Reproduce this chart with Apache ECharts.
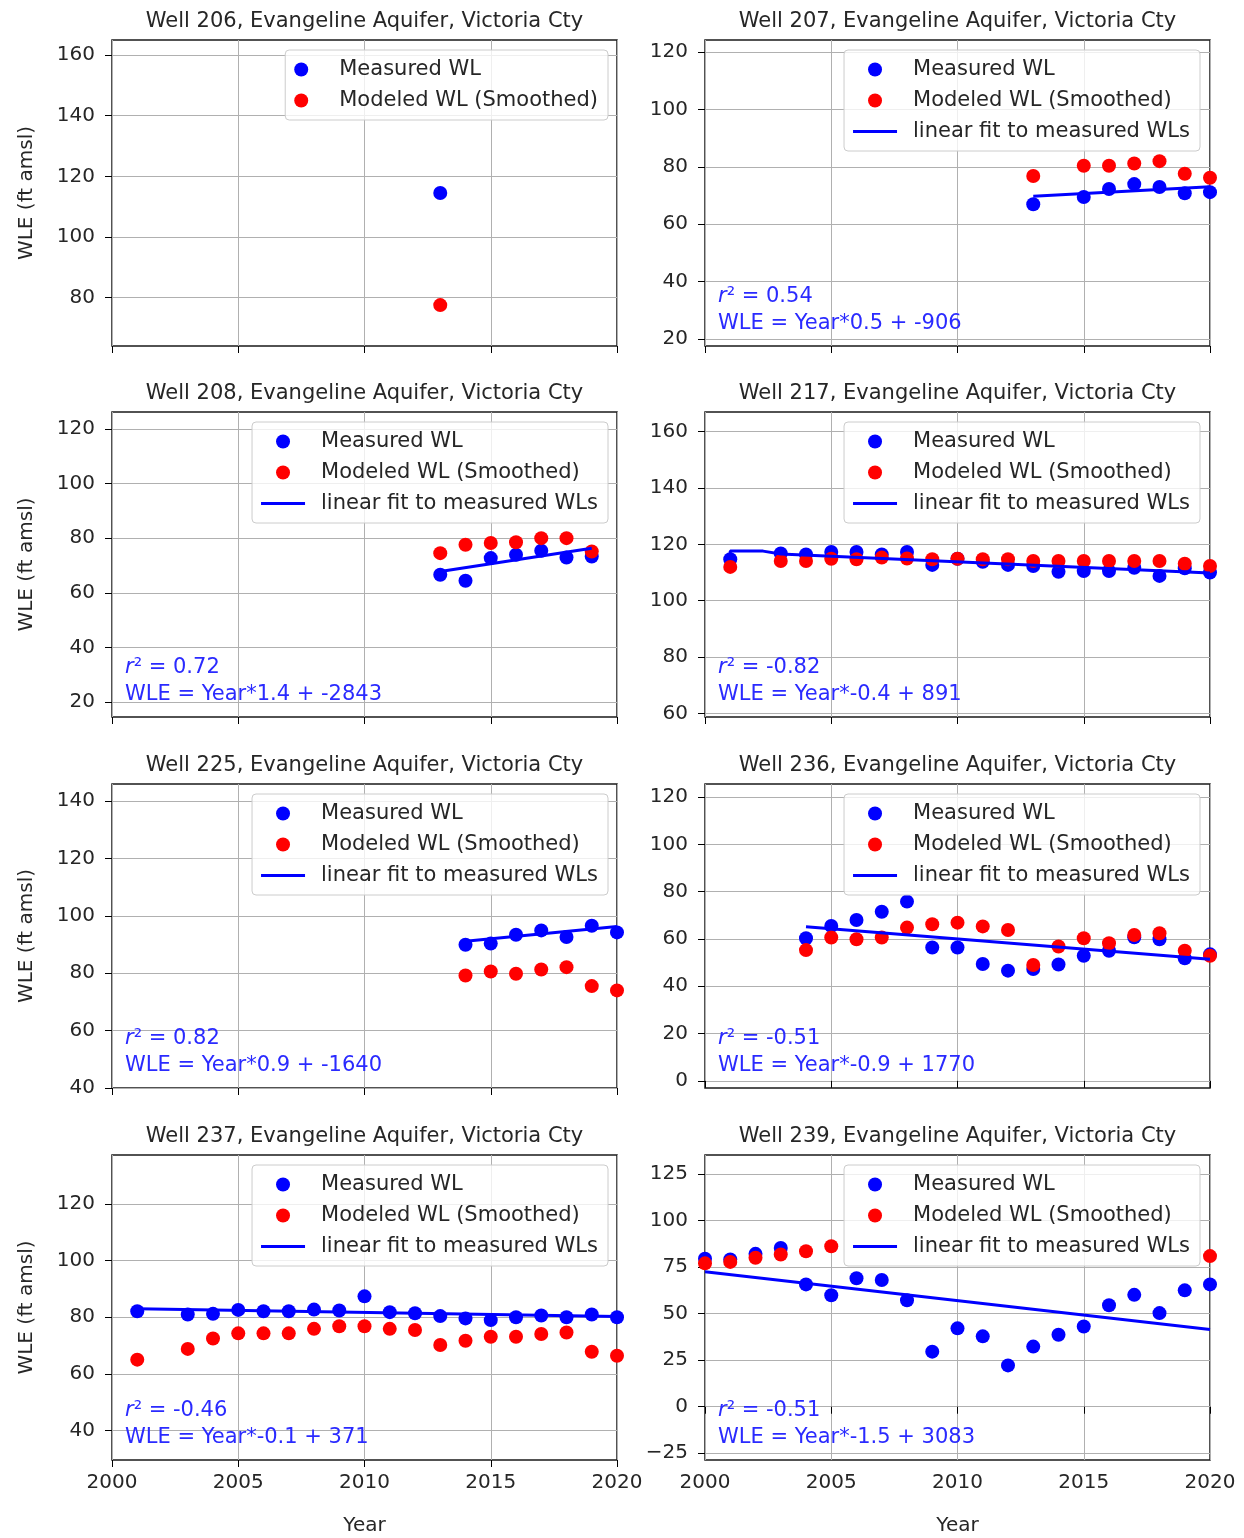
<!DOCTYPE html>
<html><head><meta charset="utf-8">
<script src="https://cdn.jsdelivr.net/npm/echarts@6/dist/echarts.min.js"></script>
<style>html,body{margin:0;padding:0;background:#fff}#c{width:1244px;height:1538px}</style>
</head><body><div id="c"></div><script>
// ---------- data ----------
const titles = [
  'Well 206, Evangeline Aquifer, Victoria Cty',
  'Well 207, Evangeline Aquifer, Victoria Cty',
  'Well 208, Evangeline Aquifer, Victoria Cty',
  'Well 217, Evangeline Aquifer, Victoria Cty',
  'Well 225, Evangeline Aquifer, Victoria Cty',
  'Well 236, Evangeline Aquifer, Victoria Cty',
  'Well 237, Evangeline Aquifer, Victoria Cty',
  'Well 239, Evangeline Aquifer, Victoria Cty'
];
const xTicks = [2000, 2005, 2010, 2015, 2020];

const w206Years = [2013];
const w206Measured = [114.5];
const w206Modeled = [77.5];
const w206Ticks = [80, 100, 120, 140, 160];

const w207Years = [2013, 2015, 2016, 2017, 2018, 2019, 2020];
const w207Measured = [67.0, 69.5, 72.3, 74.0, 73.0, 70.8, 71.2];
const w207Modeled = [76.8, 80.4, 80.4, 81.2, 82.0, 77.6, 76.2];
const w207FitYears = [2013, 2020];
const w207Fit = [69.8, 73.1];
const w207Ticks = [20, 40, 60, 80, 100, 120];

const w208Years = [2013, 2014, 2015, 2016, 2017, 2018, 2019];
const w208Measured = [66.6, 64.4, 72.7, 73.9, 75.4, 72.9, 73.3];
const w208Modeled = [74.5, 77.6, 78.2, 78.5, 80.0, 80.0, 75.1];
const w208FitYears = [2013, 2019];
const w208Fit = [67.8, 76.3];
const w208Ticks = [20, 40, 60, 80, 100, 120];

const w217Years = [2001, 2003, 2004, 2005, 2006, 2007, 2008, 2009, 2010, 2011, 2012, 2013, 2014, 2015, 2016, 2017, 2018, 2019, 2020];
const w217Measured = [114.7, 116.8, 116.4, 117.3, 117.3, 116.4, 117.3, 112.7, 114.9, 113.8, 112.7, 112.3, 110.3, 110.5, 110.5, 111.7, 108.8, 111.5, 110.0];
const w217Modeled = [112.0, 114.1, 114.1, 114.9, 114.7, 115.3, 115.0, 114.7, 114.9, 114.7, 114.7, 114.1, 114.1, 114.1, 114.1, 114.1, 114.1, 113.1, 112.3];
const w217FitYears = [2001, 2001, 2002.3, 2003, 2020];
const w217Fit = [114.7, 117.6, 117.6, 116.6, 109.8];
const w217Ticks = [60, 80, 100, 120, 140, 160];

const w225Years = [2014, 2015, 2016, 2017, 2018, 2019, 2020];
const w225Measured = [89.9, 90.3, 93.4, 94.9, 92.6, 96.5, 94.2];
const w225Modeled = [79.2, 80.6, 79.8, 81.3, 82.1, 75.5, 74.0];
const w225FitYears = [2014, 2020];
const w225Fit = [91.1, 96.3];
const w225Ticks = [40, 60, 80, 100, 120, 140];

const w236Years = [2004, 2005, 2006, 2007, 2008, 2009, 2010, 2011, 2012, 2013, 2014, 2015, 2016, 2017, 2018, 2019, 2020];
const w236Measured = [60.3, 65.5, 68.0, 71.5, 75.8, 56.4, 56.4, 49.4, 46.6, 47.3, 49.2, 52.9, 55.0, 60.7, 59.9, 51.8, 53.5];
const w236Modeled = [55.3, 60.6, 59.9, 60.6, 64.8, 66.2, 66.9, 65.3, 63.8, 49.0, 56.8, 60.3, 58.2, 61.7, 62.4, 55.0, 52.9];
const w236FitYears = [2004, 2020];
const w236Fit = [65.2, 51.4];
const w236Ticks = [0, 20, 40, 60, 80, 100, 120];

const w237Years = [2001, 2003, 2004, 2005, 2006, 2007, 2008, 2009, 2010, 2011, 2012, 2013, 2014, 2015, 2016, 2017, 2018, 2019, 2020];
const w237Measured = [82.1, 81.0, 81.2, 82.6, 82.1, 82.1, 82.7, 82.4, 87.4, 81.8, 81.4, 80.4, 79.6, 79.0, 80.0, 80.6, 80.0, 81.0, 80.0];
const w237Modeled = [65.0, 68.8, 72.5, 74.3, 74.3, 74.3, 75.9, 76.8, 76.8, 75.9, 75.5, 70.2, 71.7, 73.1, 73.1, 74.1, 74.6, 67.8, 66.4];
const w237FitYears = [2001, 2020];
const w237Fit = [83.0, 80.3];
const w237Ticks = [40, 60, 80, 100, 120];

const w239Years = [2000, 2001, 2002, 2003, 2004, 2005, 2006, 2007, 2008, 2009, 2010, 2011, 2012, 2013, 2014, 2015, 2016, 2017, 2018, 2019, 2020];
const w239Measured = [79.5, 79.1, 82.1, 85.3, 65.7, 59.9, 69.0, 68.1, 57.2, 29.6, 42.1, 37.8, 22.2, 32.3, 38.7, 43.1, 54.5, 60.1, 50.3, 62.5, 65.7];
const w239ModeledYears = [2000, 2001, 2002, 2003, 2004, 2005, 2020];
const w239Modeled = [77.0, 77.8, 80.0, 81.8, 83.5, 86.2, 80.9];
const w239FitYears = [2000, 2020];
const w239Fit = [72.5, 41.5];
const w239Ticks = [-25, 0, 25, 50, 75, 100, 125];

const r2Labels = [null, '0.54', '0.72', '-0.82', '0.82', '-0.51', '-0.46', '-0.51'];
const eqLabels = [null,
  'WLE = Year*0.5 + -906',
  'WLE = Year*1.4 + -2843',
  'WLE = Year*-0.4 + 891',
  'WLE = Year*0.9 + -1640',
  'WLE = Year*-0.9 + 1770',
  'WLE = Year*-0.1 + 371',
  'WLE = Year*-1.5 + 3083'];
const yRanges = [[64, 165], [17.6, 124.2], [14.5, 126.2], [58.7, 167], [40, 145.9], [-3, 125.5], [29.5, 137.4], [-28.6, 135.2]];

// ---------- build ----------
const panels = [
  {years: w206Years, measured: w206Measured, modYears: w206Years, modeled: w206Modeled, fitYears: null, fit: null, ticks: w206Ticks},
  {years: w207Years, measured: w207Measured, modYears: w207Years, modeled: w207Modeled, fitYears: w207FitYears, fit: w207Fit, ticks: w207Ticks},
  {years: w208Years, measured: w208Measured, modYears: w208Years, modeled: w208Modeled, fitYears: w208FitYears, fit: w208Fit, ticks: w208Ticks},
  {years: w217Years, measured: w217Measured, modYears: w217Years, modeled: w217Modeled, fitYears: w217FitYears, fit: w217Fit, ticks: w217Ticks},
  {years: w225Years, measured: w225Measured, modYears: w225Years, modeled: w225Modeled, fitYears: w225FitYears, fit: w225Fit, ticks: w225Ticks},
  {years: w236Years, measured: w236Measured, modYears: w236Years, modeled: w236Modeled, fitYears: w236FitYears, fit: w236Fit, ticks: w236Ticks},
  {years: w237Years, measured: w237Measured, modYears: w237Years, modeled: w237Modeled, fitYears: w237FitYears, fit: w237Fit, ticks: w237Ticks},
  {years: w239Years, measured: w239Measured, modYears: w239ModeledYears, modeled: w239Modeled, fitYears: w239FitYears, fit: w239Fit, ticks: w239Ticks}
];

const FONT = 'DejaVu Sans';
const TXT = '#262626';
const ANN = '#2a2aff';
const colLeft = [112, 705];
const rowTop = [40, 412, 784, 1155];
const rowH = [306, 305, 304, 305];
const W = 505;

const grids = [], xAxes = [], yAxes = [], series = [], titleArr = [], legends = [], graphics = [];
const N_MEAS = 'Measured WL', N_MOD = 'Modeled WL (Smoothed)', N_FIT = 'linear fit to measured WLs';
const LINE_ICON = 'path://M0,0L44,0L44,3L0,3Z';

panels.forEach((p, i) => {
  const col = i % 2, row = Math.floor(i / 2);
  const left = colLeft[col], top = rowTop[row], h = rowH[row];
  const bottomRow = row === 3;
  grids.push({left: left, top: top, width: W, height: h, show: true, borderColor: '#1a1a1a', borderWidth: 1.5, backgroundColor: '#fff', containLabel: false});
  xAxes.push({
    type: 'value', gridIndex: i, min: 2000, max: 2020, interval: 5,
    axisLine: {show: false},
    axisTick: {show: true, length: 7, lineStyle: {color: '#000'}},
    axisLabel: {show: bottomRow, fontSize: 20, fontFamily: FONT, color: TXT, margin: 13,
      formatter: v => String(v)},
    splitLine: {show: true, lineStyle: {color: '#b0b0b0', width: 1}},
    name: bottomRow ? 'Year' : '', nameLocation: 'middle', nameGap: 56,
    nameTextStyle: {fontSize: 20, fontFamily: FONT, color: TXT}
  });
  yAxes.push({
    type: 'value', gridIndex: i, min: yRanges[i][0], max: yRanges[i][1],
    axisLine: {show: false},
    axisTick: {show: true, length: 7, lineStyle: {color: '#000'}, customValues: p.ticks},
    axisLabel: {fontSize: 20, fontFamily: FONT, color: TXT, margin: 17, customValues: p.ticks,
      formatter: v => String(v).replace('-', '\u2212')},
    splitLine: {show: true, lineStyle: {color: '#b0b0b0', width: 1}},
    name: col === 0 ? 'WLE (ft amsl)' : '', nameLocation: 'middle', nameGap: 75,
    nameTextStyle: {fontSize: 20, fontFamily: FONT, color: TXT}
  });
  series.push({
    type: 'scatter', name: N_MEAS, xAxisIndex: i, yAxisIndex: i, symbol: 'circle', symbolSize: 14,
    itemStyle: {color: '#0000ff', opacity: 1}, z: 2,
    data: p.years.map((y, k) => [y, p.measured[k]])
  });
  series.push({
    type: 'scatter', name: N_MOD, xAxisIndex: i, yAxisIndex: i, symbol: 'circle', symbolSize: 14,
    itemStyle: {color: '#ff0000', opacity: 1}, z: 2,
    data: p.modYears.map((y, k) => [y, p.modeled[k]])
  });
  if (p.fit) {
    series.push({
      type: 'line', name: N_FIT, xAxisIndex: i, yAxisIndex: i, symbol: 'none', showSymbol: false,
      lineStyle: {color: '#0000ff', width: 3}, itemStyle: {color: '#0000ff'}, z: 3, silent: true,
      data: p.fitYears.map((y, k) => [y, p.fit[k]])
    });
  }
  titleArr.push({
    text: titles[i], left: left + W / 2, top: top - 29, textAlign: 'center', padding: 0,
    textStyle: {fontSize: 21, fontWeight: 'normal', fontFamily: FONT, color: TXT}
  });
  const legData = [{name: N_MEAS, icon: 'circle'}, {name: N_MOD, icon: 'circle'}];
  if (p.fit) legData.push({name: N_FIT, icon: LINE_ICON});
  legends.push({
    orient: 'vertical', align: 'left',
    right: col === 0 ? 636 : 44, top: top + 10,
    data: legData,
    itemWidth: 44, itemHeight: 14, itemGap: 8, symbolKeepAspect: true,
    padding: [8, 10, 8, 9],
    backgroundColor: 'rgba(255,255,255,0.8)', borderColor: '#cccccc', borderWidth: 1, borderRadius: 4,
    selectedMode: false, z: 10,
    textStyle: {fontSize: 21, fontFamily: FONT, color: TXT, padding: [0, 0, 0, 11], lineHeight: 23}
  });
  if (r2Labels[i]) {
    const bottom = top + h;
    graphics.push({
      type: 'text', left: left + 13, top: bottom - 60, z: 20,
      style: {text: '{i|r}² = ' + r2Labels[i], fill: ANN, font: '21px "DejaVu Sans"',
        rich: {i: {fontStyle: 'italic', fontSize: 21, fontFamily: FONT, fill: ANN}}}
    });
    graphics.push({
      type: 'text', left: left + 13, top: bottom - 33, z: 20,
      style: {text: eqLabels[i], fill: ANN, font: '21px "DejaVu Sans"'}
    });
  }
});

const chart = echarts.init(document.getElementById('c'), null, {renderer: 'canvas'});
chart.setOption({
  backgroundColor: '#ffffff',
  animation: false,
  textStyle: {fontFamily: FONT},
  title: titleArr,
  legend: legends,
  grid: grids,
  xAxis: xAxes,
  yAxis: yAxes,
  series: series,
  graphic: graphics
});
</script></body></html>
